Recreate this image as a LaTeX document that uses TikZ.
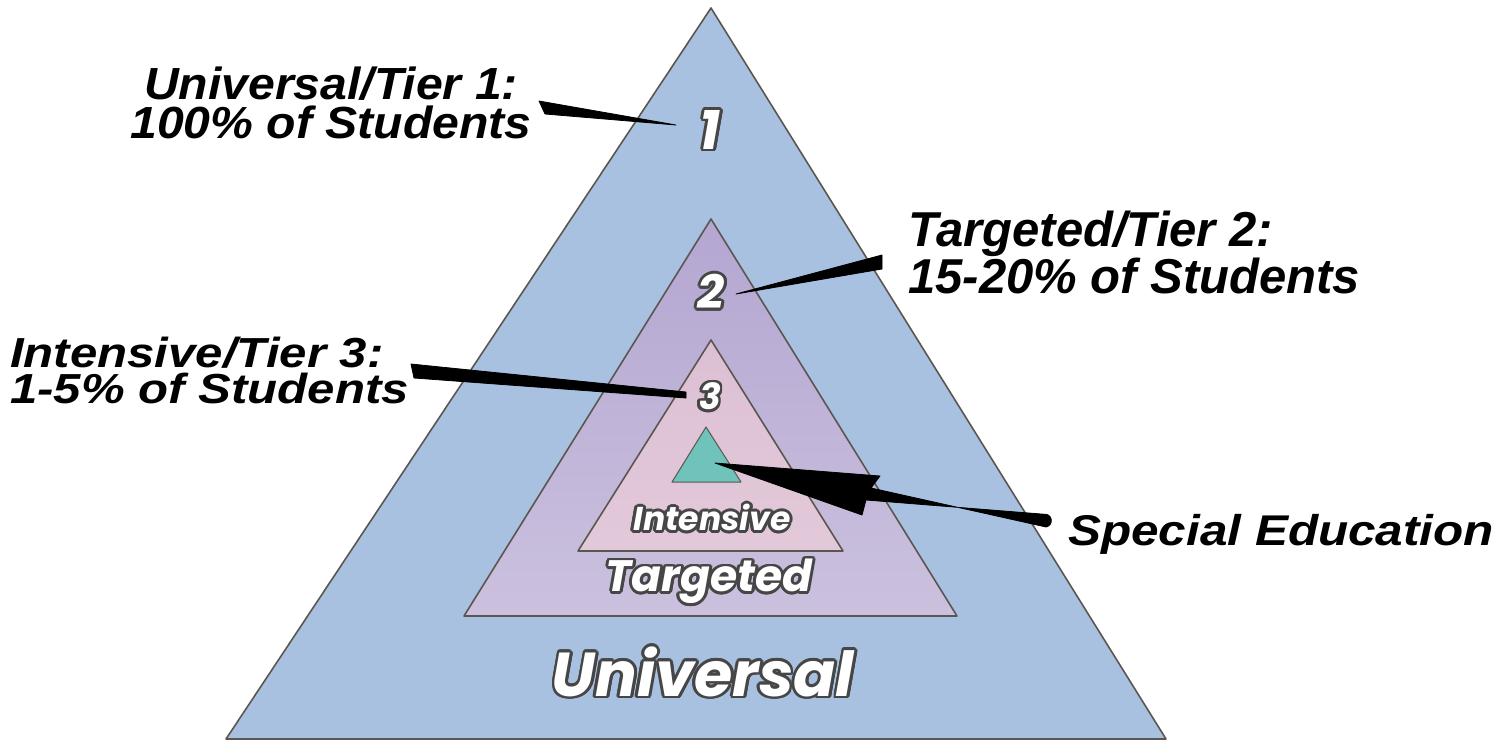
\documentclass[tikz,border=0pt]{standalone}
\usepackage{fontspec}
\setmainfont{Liberation Sans}
\newfontfamily\roundfont{Poppins}
\usepackage[copies]{contour}
\contourlength{2.8pt}
\usetikzlibrary{positioning}
\definecolor{uniblue}{HTML}{A9C1E1}
\definecolor{tarpurple}{HTML}{B4A6D1}
\definecolor{tarlight}{HTML}{CBC1DE}
\definecolor{intpink}{HTML}{DDBFD4}
\definecolor{intlight}{HTML}{E2C9D9}
\definecolor{specgreen}{HTML}{6FC3BB}
\definecolor{edge}{HTML}{5B5650}
\definecolor{rim}{HTML}{464646}
\newcommand{\rimtext}[1]{\contour{rim}{\textcolor{white}{#1}}}
\newcommand{\widen}[2]{\scalebox{#1}[1]{#2}}

\begin{document}
\begin{tikzpicture}[x=1pt,y=-1pt,
    caption/.style={font=\bfseries\itshape, inner sep=0pt},
    tier/.style={draw=edge, line width=1.6pt, line join=round},
    badge/.style={inner sep=0pt},
    pointer/.style={fill=black, draw=black, line width=0.8pt, line join=round}]
    \useasboundingbox (0,0) rectangle (1503,742);

    % tiers
    \path[tier, fill=uniblue] (711,8) coordinate (t1) -- (1166,739) -- (226,739) -- cycle;
    \path[tier, top color=tarpurple, bottom color=tarlight] (711,219) coordinate (t2) -- (957,616) -- (464,616) -- cycle;
    \path[tier, top color=intpink, bottom color=intlight] (711,340) coordinate (t3) -- (843,551) -- (578,551) -- cycle;
    \path[draw=edge, line width=1pt, line join=round, fill=specgreen] (706,427) coordinate (t4) -- (741,482) -- (672,482) -- cycle;

    \node[badge, font=\roundfont\bfseries\itshape\fontsize{55}{55}\selectfont] (one) at (710,131) {\rimtext{1}};
    \node[badge, font=\roundfont\bfseries\itshape\fontsize{47}{47}\selectfont] (two) at (711,293) {\rimtext{2}};
    \node[badge, font=\roundfont\bfseries\itshape\fontsize{36}{36}\selectfont] (three) at (710,398) {\rimtext{3}};
    \node[badge, font=\roundfont\bfseries\itshape\fontsize{33}{33}\selectfont] (intensive) at (712,519) {\rimtext{Intensive}};
    \node[badge, font=\roundfont\bfseries\itshape\fontsize{44}{44}\selectfont] (targeted) at (709,583) {\rimtext{Targeted}};
    \node[badge, font=\roundfont\bfseries\itshape\fontsize{62}{62}\selectfont] (universal) at (703,673) {\rimtext{Universal}};

    % labels
    \node[caption, anchor=base, font=\fontsize{45}{45}\selectfont\bfseries\itshape] (tier1a) at (331,99) {\widen{1.07}{Universal/Tier 1:}};
    \node[caption, anchor=base, font=\fontsize{45}{45}\selectfont\bfseries\itshape] (tier1b) at (331,138) {\widen{1.07}{100\% of Students}};
    \node[caption, anchor=base west, font=\fontsize{49}{49}\selectfont\bfseries\itshape] (tier2a) at (908,246) {Targeted/Tier 2:};
    \node[caption, anchor=base west, font=\fontsize{49}{49}\selectfont\bfseries\itshape] (tier2b) at (908,293) {15-20\% of Students};
    \node[caption, anchor=base west, font=\fontsize{42}{42}\selectfont\bfseries\itshape] (tier3a) at (10,367) {\widen{1.17}{Intensive/Tier 3:}};
    \node[caption, anchor=base west, font=\fontsize{42}{42}\selectfont\bfseries\itshape] (tier3b) at (10,403) {\widen{1.17}{1-5\% of Students}};
    \node[caption, anchor=base west, font=\fontsize{43}{43}\selectfont\bfseries\itshape] (special) at (1068,545) {\widen{1.15}{Special Education}};

    % pointers
    \coordinate (p1) at (676,125);
    \coordinate (p2) at (736,294);
    \coordinate (p3) at (686,395);
    \coordinate (p4) at (715,463);
    \path[pointer] (539,101) -- (p1) -- (545,114) -- cycle;
    \path[pointer] (882,255) -- (882,269) -- (p2) -- cycle;
    \path[pointer] (411,364) -- (686,392) -- (686,398) -- (414,378) -- cycle;
    \path[pointer] (p4) -- (880,476) -- (871,488) -- (1046,527)
        arc[start angle=80, end angle=-100, radius=6.5] -- (866,500) -- (862,515) -- cycle;
\end{tikzpicture}
\end{document}
